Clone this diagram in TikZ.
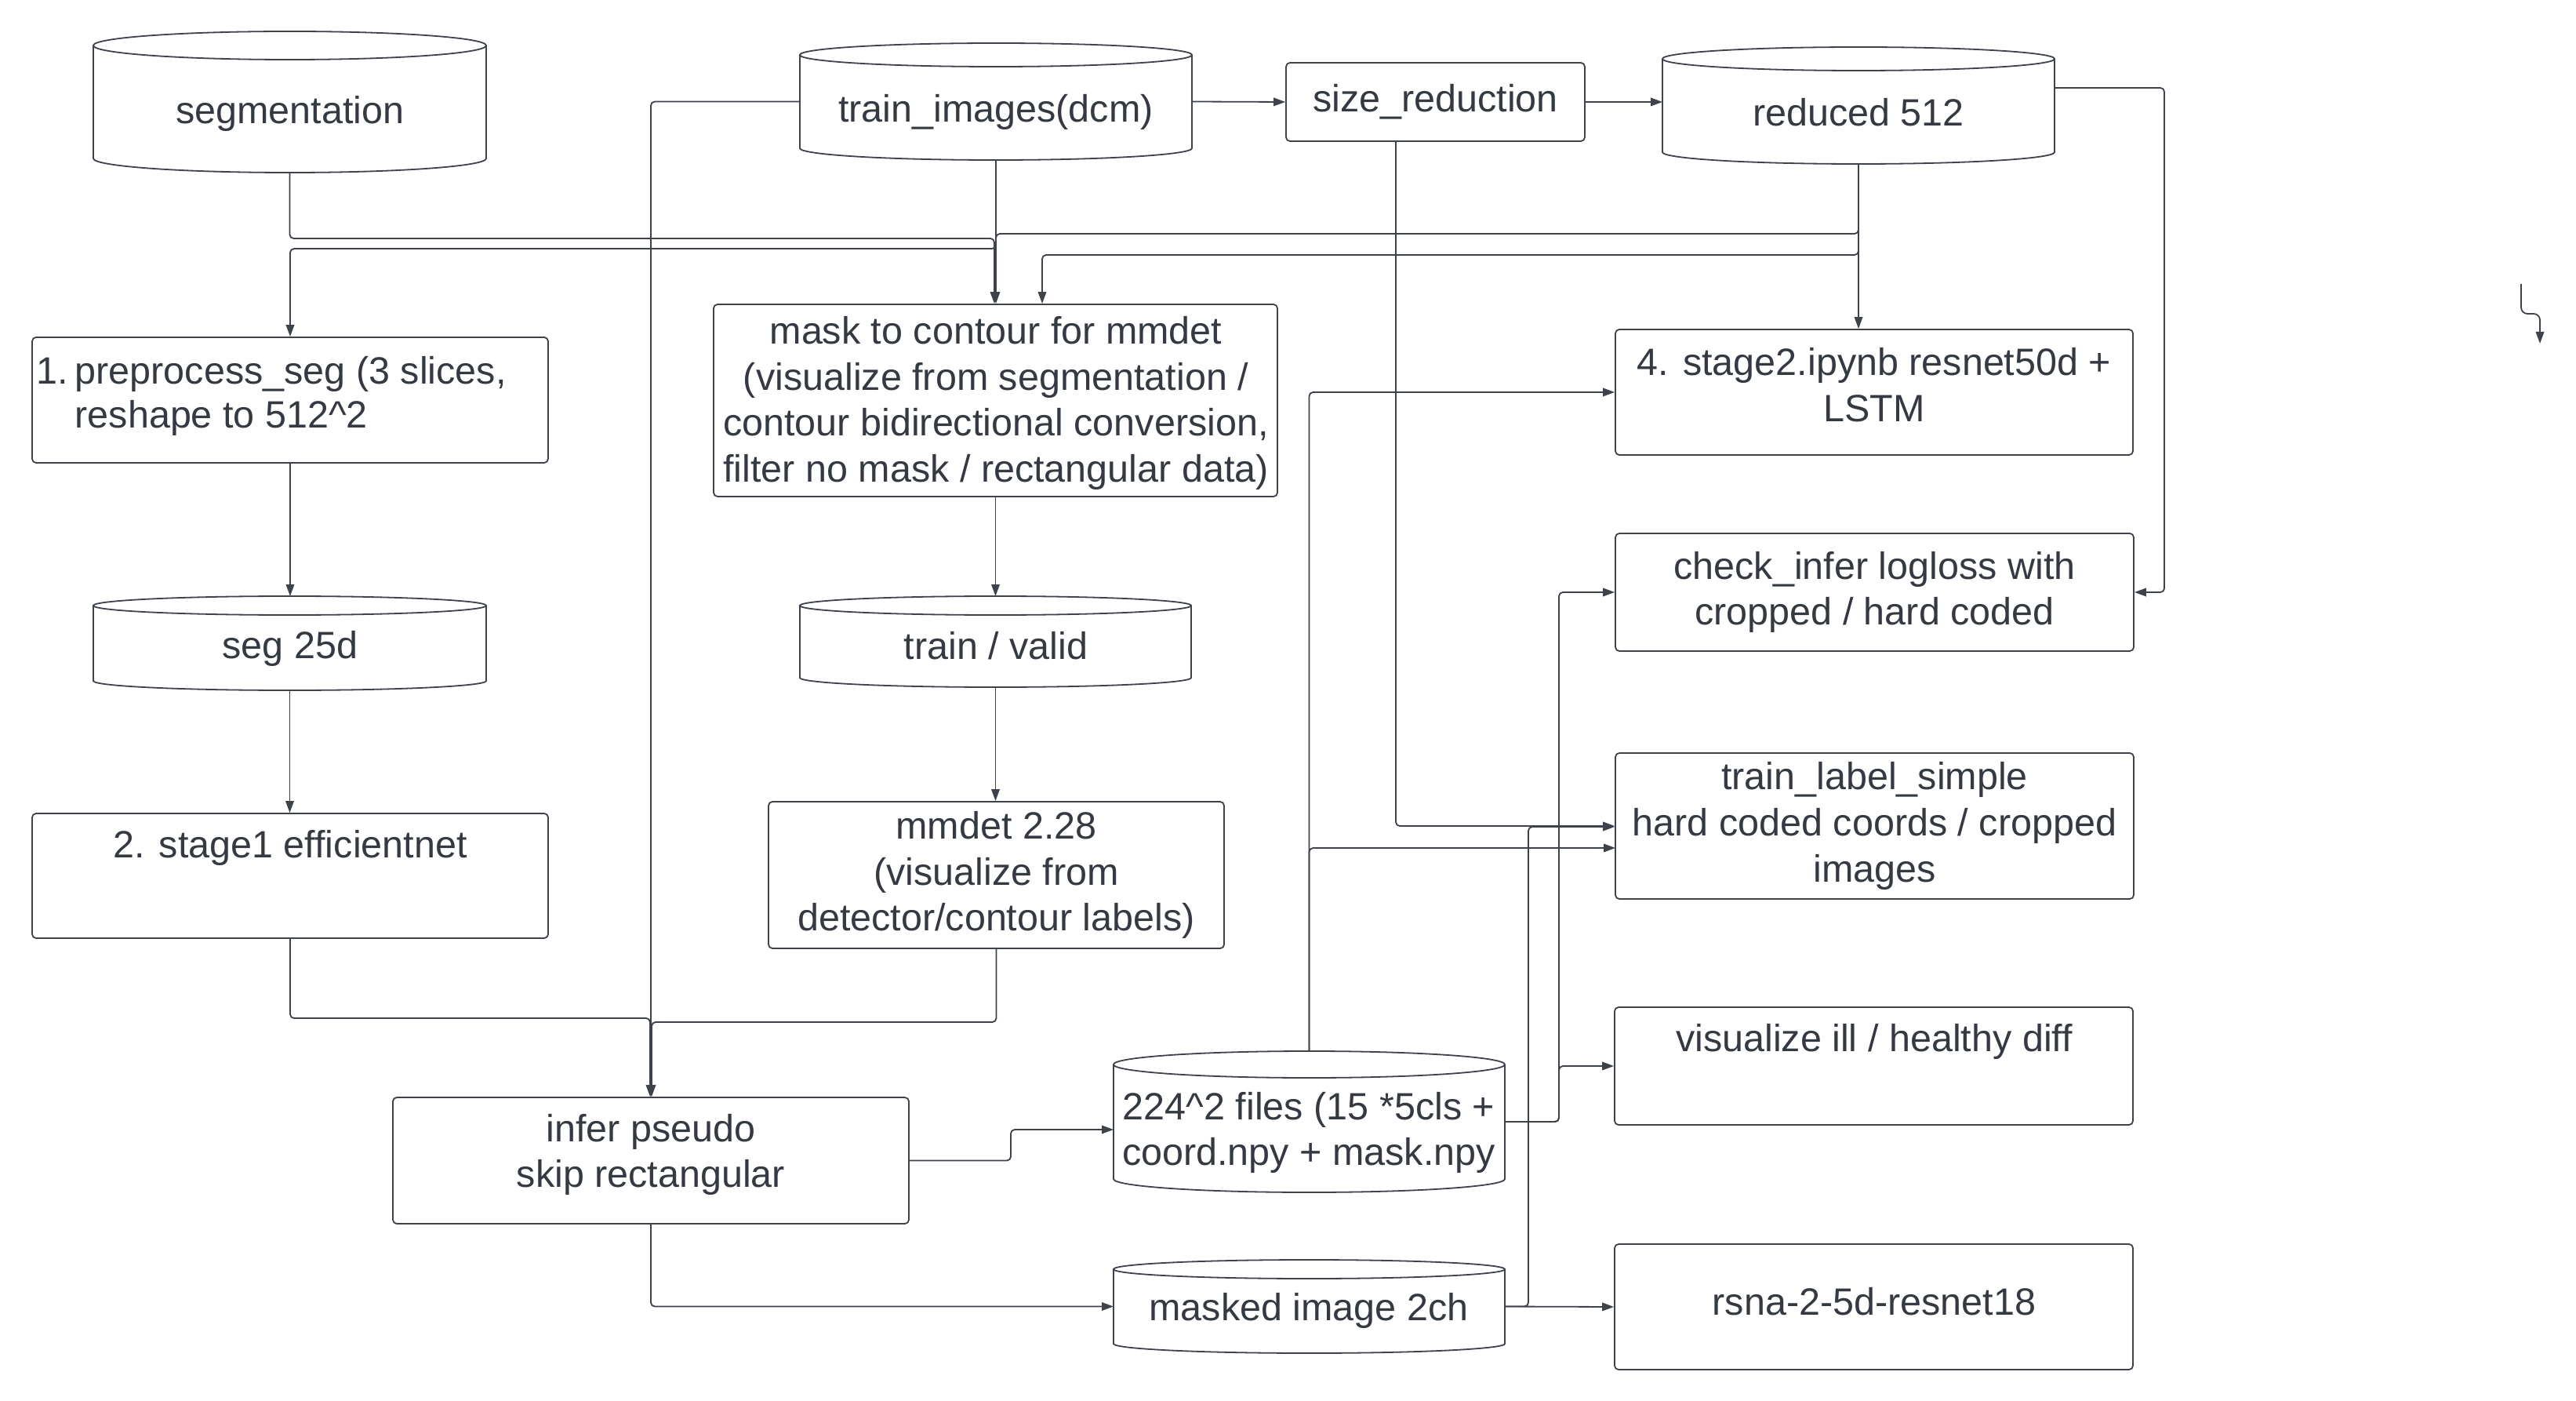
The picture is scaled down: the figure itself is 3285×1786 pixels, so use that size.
\documentclass[tikz,border=0pt]{standalone}
\usepackage{fontspec}
\setmainfont{Liberation Sans}
\usetikzlibrary{arrows.meta,calc}
\definecolor{ln}{RGB}{62,66,74}
\definecolor{tx}{RGB}{52,57,66}
\newcommand\dgfont{\fontsize{13.8}{16.7}\selectfont}
\newcommand\mycyl[5]{%
  \pgfmathsetmacro\cylrx{(#2-#1)*0.05}%
  \pgfmathsetmacro\cylry{#5*0.1}%
  \draw[cylline] (#1,#3+#5) -- (#1,#4-#5)
    arc[start angle=180,end angle=360,x radius=\cylrx mm,y radius=\cylry mm]
    -- (#2,#3+#5)
    arc[start angle=0,end angle=180,x radius=\cylrx mm,y radius=\cylry mm]
    arc[start angle=180,end angle=360,x radius=\cylrx mm,y radius=\cylry mm];
}
\begin{document}
\begin{tikzpicture}[x=0.1mm,y=-0.1mm,
  conn/.style={draw=ln, line width=0.18mm, rounded corners=0.5mm, -{Triangle[length=1.5mm,width=1.05mm]}},
  box/.style={draw=ln, line width=0.18mm, rounded corners=0.5mm, fill=white, inner sep=0pt, text=tx, align=center, font=\dgfont},
  cylnode/.style={draw=none, inner sep=0pt, outer sep=0pt},
  cylline/.style={draw=ln, line width=0.18mm, fill=white},
  txt/.style={text=tx, font=\dgfont, inner sep=0pt, align=center},
  ltxt/.style={text=tx, font=\dgfont, inner sep=0pt, text height=10pt, text depth=3pt},
]
\useasboundingbox[fill=white] (0,0) rectangle (3285,1786);

% ---------- cylinders ----------
\mycyl{119}{620}{40}{220}{18}
\node[cylnode, minimum width=50.1mm, minimum height=18mm] (seg) at (369.5,130) {};
\node[txt] (segt) at (370,145) {segmentation};

\mycyl{1020}{1520}{55}{204}{15}
\node[cylnode, minimum width=50mm, minimum height=14.9mm] (ti) at (1270,129.5) {};
\node[txt] (tit) at (1270,143) {train\_images(dcm)};

\mycyl{2120}{2620}{60}{209}{15}
\node[cylnode, minimum width=50mm, minimum height=14.9mm] (red) at (2370,134.5) {};
\node[txt] (redt) at (2370,143) {reduced 512};

\mycyl{119}{620}{760}{880}{12}
\node[cylnode, minimum width=50.1mm, minimum height=12mm] (s25) at (369.5,820) {};
\node[txt] (s25t) at (370,827) {seg 25d};

\mycyl{1020}{1519}{760}{876}{12}
\node[cylnode, minimum width=49.9mm, minimum height=11.6mm] (tv) at (1269.5,818) {};
\node[txt] (tvt) at (1270,823) {train / valid};

\mycyl{1420}{1919}{1340}{1520}{17}
\node[cylnode, minimum width=49.9mm, minimum height=18mm] (cf) at (1669.5,1430) {};
\node[txt] (cft) at (1669,1444) {224\textasciicircum2 files (15 *5cls +\\coord.npy + mask.npy};

\mycyl{1420}{1919}{1606}{1725}{12}
\node[cylnode, minimum width=49.9mm, minimum height=11.9mm] (mk) at (1669.5,1665.5) {};
\node[txt] (mkt) at (1669,1671) {masked image 2ch};

% ---------- boxes ----------
\node[box, minimum width=38.1mm, minimum height=10mm] (sr) at (1830.5,130) {size\_reduction};
\node[box, minimum width=65.8mm, minimum height=16mm] (prep) at (370,510) {};
\node[ltxt, anchor=west] (prep1) at (46,477) {1.};
\node[ltxt, anchor=west] (prep2) at (95,477) {preprocess\_seg (3 slices,};
\node[ltxt, anchor=west] (prep3) at (95,533) {reshape to 512\textasciicircum2};
\node[box, minimum width=71.9mm, minimum height=24.5mm] (mask) at (1269.5,510.5) {};
\node[txt] (maskt) at (1270,514)
  {mask to contour for mmdet\\(visualize from segmentation /\\contour bidirectional conversion,\\filter no mask / rectangular data)};
\node[box, minimum width=65.8mm, minimum height=15.9mm] (st1) at (370,1116.5) {};
\node[txt] (st1t) at (370,1081) {2. stage1 efficientnet};
\node[box, minimum width=58.1mm, minimum height=18.7mm] (mm) at (1270.5,1115.5)
  {mmdet 2.28\\(visualize from\\detector/contour labels)};
\node[box, minimum width=65.8mm, minimum height=16.1mm] (inf) at (830,1479.5) {};
\node[txt] (inft) at (830,1472) {infer pseudo\\skip rectangular};
\node[box, minimum width=66mm, minimum height=16mm] (st2) at (2390,500) {};
\node[txt] (st2t) at (2390,491) {4. stage2.ipynb resnet50d +\\LSTM};
\node[box, minimum width=66.1mm, minimum height=15mm] (chk) at (2390.5,755)
  {check\_infer logloss with\\cropped / hard coded};
\node[box, minimum width=66.1mm, minimum height=18.6mm] (tls) at (2390.5,1053)
  {train\_label\_simple\\hard coded coords / cropped\\images};
\node[box, minimum width=66.1mm, minimum height=15mm] (vis) at (2389.5,1359) {};
\node[txt] (vist) at (2390,1328) {visualize ill / healthy diff};
\node[box, minimum width=66.1mm, minimum height=16mm] (rsna) at (2389.5,1666) {};
\node[txt] (rsnat) at (2390,1659) {rsna-2-5d-resnet18};

% ---------- junction points ----------
\coordinate (j1) at (1268,304);
\coordinate (j2) at (1270,298);
\coordinate (j3) at (1270,317);
\coordinate (j4) at (1329,325);
\coordinate (j5) at (2760,112);
\coordinate (j6) at (829,1298);
\coordinate (j7) at (831,1303);
\coordinate (j8) at (1289,1440);
\coordinate (j9) at (2060,1081);
\coordinate (j10) at (1988,1430);
\coordinate (j11) at (1949,1054);
\coordinate (j12) at (1780,1053);
\coordinate (f1) at (3215,362);
\coordinate (f2) at (3239,438);

% ---------- connectors ----------
\draw[conn] (ti.east) -- (sr.west);
\draw[conn] (sr.east) -- (sr.east -| red.west);
\draw[conn] (ti.west) -| (inf.north);
\draw[conn] (seg.south) |- (j1) -- (j1 |- mask.north);
\draw[conn] (ti.south) -- (ti.south |- mask.north);
\draw[conn] (red.south) |- (j2) -- (j3) -| (prep.north);
\draw[conn] (red.south) |- (j4) -- (j4 |- mask.north);
\draw[conn] (red.south) -- (red.south |- st2.north);
\draw[conn] (red.east |- j5) -- (j5) |- (chk.east);
\draw[conn] (prep.south) -- (prep.south |- s25.north);
\draw[conn] (s25.south) -- (s25.south |- st1.north);
\draw[conn] (mask.south) -- (mask.south |- tv.north);
\draw[conn] (tv.south) -- (tv.south |- mm.north);
\draw[conn] (st1.south) |- (j6) -- (j6 |- inf.north);
\draw[conn] (mm.south) |- (j7) -- (j7 |- inf.north);
\draw[conn] (inf.east) -| (j8) -- (j8 -| cf.west);
\draw[conn] (inf.south) |- (mk.west);
\draw[conn] (cf.north) |- (st2.west);
\draw[conn] (cf.north) |- (j9);
\draw[conn] (cf.east |- j10) -- (j10) |- (vis.west);
\draw[conn] (cf.east |- j10) -- (j10) |- (chk.west);
\draw[conn] (mk.east) -- (rsna.west);
\draw[conn] (mk.east) -| (j11) -- (j11 -| tls.west);
\draw[conn] (sr.south -| j12) |- (tls.west);
\draw[conn, rounded corners=0.8mm] (f1) -- (3215,400) -- (3239,400) -- (f2);
\end{tikzpicture}
\end{document}
